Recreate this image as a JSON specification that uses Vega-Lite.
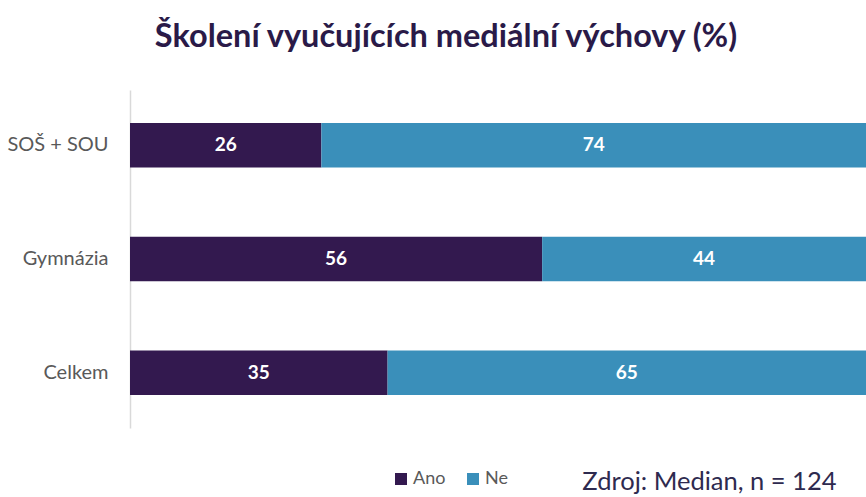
{
  "$schema": "https://vega.github.io/schema/vega-lite/v6.json",
  "autosize": {"type": "none"},
  "width": 736,
  "height": 338,
  "padding": {"left": 130, "top": 90, "right": 0, "bottom": 69},
  "background": "white",
  "config": {"view": {"stroke": null}},
  "title": {
    "text": "Školení vyučujících mediální výchovy (%)",
    "font": "Lato",
    "fontSize": 32.5,
    "fontWeight": "bold",
    "color": "#2a1a48",
    "anchor": "middle",
    "frame": "group",
    "dx": -52,
    "offset": 37
  },
  "data": {
    "values": [
      {"skupina": "SOŠ + SOU", "odpoved": "Ano", "hodnota": 26},
      {"skupina": "SOŠ + SOU", "odpoved": "Ne", "hodnota": 74},
      {"skupina": "Gymnázia", "odpoved": "Ano", "hodnota": 56},
      {"skupina": "Gymnázia", "odpoved": "Ne", "hodnota": 44},
      {"skupina": "Celkem", "odpoved": "Ano", "hodnota": 35},
      {"skupina": "Celkem", "odpoved": "Ne", "hodnota": 65}
    ]
  },
  "transform": [
    {"stack": "hodnota", "groupby": ["skupina"], "sort": [{"field": "odpoved", "order": "ascending"}], "as": ["x0", "x1"]},
    {"calculate": "(datum.x0 + datum.x1) / 2", "as": "stred"}
  ],
  "encoding": {
    "y": {
      "field": "skupina",
      "type": "nominal",
      "sort": ["SOŠ + SOU", "Gymnázia", "Celkem"],
      "scale": {"paddingInner": 0.61, "paddingOuter": 0.29},
      "axis": {
        "title": null,
        "ticks": false,
        "labelPadding": 22,
        "labelFont": "Lato",
        "labelFontSize": 20,
        "labelColor": "#595959",
        "domainColor": "#d9d9d9",
        "domainWidth": 1.5
      }
    }
  },
  "layer": [
    {
      "mark": {"type": "bar"},
      "encoding": {
        "x": {
          "field": "x0",
          "type": "quantitative",
          "scale": {"domain": [0, 100], "nice": false},
          "axis": {
            "labels": false,
            "ticks": false,
            "domain": false,
            "grid": false,
            "title": "Zdroj: Median, n = 124",
            "titleFont": "Lato",
            "titleFontSize": 25.5,
            "titleFontWeight": "normal",
            "titleColor": "#2e2a4f",
            "titleX": 706,
            "titleY": 61,
            "titleAlign": "right",
            "titleBaseline": "alphabetic"
          }
        },
        "x2": {"field": "x1"},
        "color": {
          "field": "odpoved",
          "type": "nominal",
          "scale": {"domain": ["Ano", "Ne"], "range": ["#33194f", "#3a8fba"]},
          "legend": {
            "title": null,
            "orient": "none",
            "direction": "horizontal",
            "legendX": 262,
            "legendY": 380,
            "symbolType": "square",
            "symbolSize": 144,
            "symbolStrokeWidth": 0,
            "labelFont": "Lato",
            "labelFontSize": 18,
            "labelColor": "#595959",
            "labelOffset": 3,
            "columnPadding": 18
          }
        }
      }
    },
    {
      "mark": {"type": "text", "font": "Lato", "fontSize": 19, "fontWeight": "bold", "color": "white", "baseline": "middle", "align": "center"},
      "encoding": {
        "x": {"field": "stred", "type": "quantitative"},
        "text": {"field": "hodnota", "type": "quantitative"}
      }
    }
  ]
}
